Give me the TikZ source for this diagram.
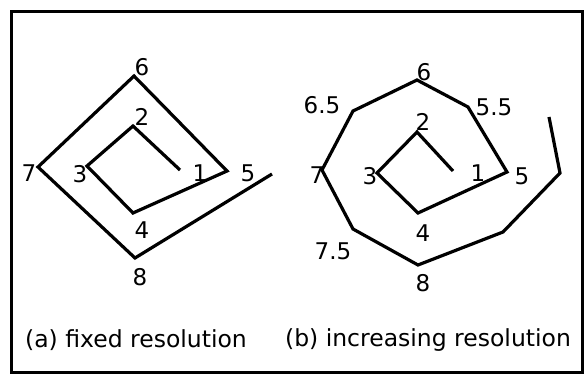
\documentclass[tikz,border=0pt]{standalone}
\usepackage{fontspec}
\setmainfont{DejaVu Sans}
\begin{document}
\begin{tikzpicture}[x=1pt,y=-1pt,
  spiral/.style={line width=3.2pt,line join=miter,line cap=butt},
  lbl/.style={font=\fontsize{23}{26}\selectfont,inner sep=0pt},
  captxt/.style={font=\fontsize{23.5}{26}\selectfont,inner sep=0pt}]
\useasboundingbox (0,0) rectangle (586,379);
\draw[line width=3pt] (11,12) rectangle (582,372);
% left spiral
\coordinate (a0) at (180,170);
\coordinate (a2) at (133,126);
\coordinate (a3) at (87,166);
\coordinate (a4) at (133,213);
\coordinate (a5) at (227,171);
\coordinate (a6) at (134,76);
\coordinate (a7) at (38,167);
\coordinate (a8) at (135,258);
\coordinate (a9) at (272,174);
\draw[spiral] (a0)--(a2)--(a3)--(a4)--(a5)--(a6)--(a7)--(a8)--(a9);
\node[lbl] (la6) at (142,67) {6};
\node[lbl] (la2) at (142,117) {2};
\node[lbl] (la7) at (29,173) {7};
\node[lbl] (la3) at (80,174) {3};
\node[lbl] (la1) at (200,173) {1};
\node[lbl] (la5) at (248,173) {5};
\node[lbl] (la4) at (142,230) {4};
\node[lbl] (la8) at (140,277) {8};
\node[captxt] (capa) at (136,340) {(a) fixed resolution};
% right spiral
\coordinate (b0) at (453,171);
\coordinate (b2) at (417,132);
\coordinate (b3) at (377,173);
\coordinate (b4) at (418,213);
\coordinate (b5) at (507,172);
\coordinate (b55) at (468,107);
\coordinate (b6) at (417,80);
\coordinate (b65) at (353,111);
\coordinate (b7) at (322,170);
\coordinate (b75) at (353,229);
\coordinate (b8) at (418,265);
\coordinate (b85) at (503,232);
\coordinate (b9) at (560,173);
\coordinate (b10) at (549,117);
\draw[spiral] (b0)--(b2)--(b3)--(b4)--(b5)--(b55)--(b6)--(b65)--(b7)--(b75)--(b8)--(b85)--(b9)--(b10);
\node[lbl] (lb6) at (424,72) {6};
\node[lbl] (lb65) at (322,105) {6.5};
\node[lbl] (lb55) at (494,107) {5.5};
\node[lbl] (lb2) at (423,122) {2};
\node[lbl] (lb7) at (317,175) {7};
\node[lbl] (lb3) at (370,176) {3};
\node[lbl] (lb1) at (478,173) {1};
\node[lbl] (lb5) at (522,176) {5};
\node[lbl] (lb4) at (423,233) {4};
\node[lbl] (lb75) at (333,251) {7.5};
\node[lbl] (lb8) at (423,283) {8};
\node[captxt] (capb) at (428,340) {(b) increasing resolution};
\end{tikzpicture}
\end{document}
